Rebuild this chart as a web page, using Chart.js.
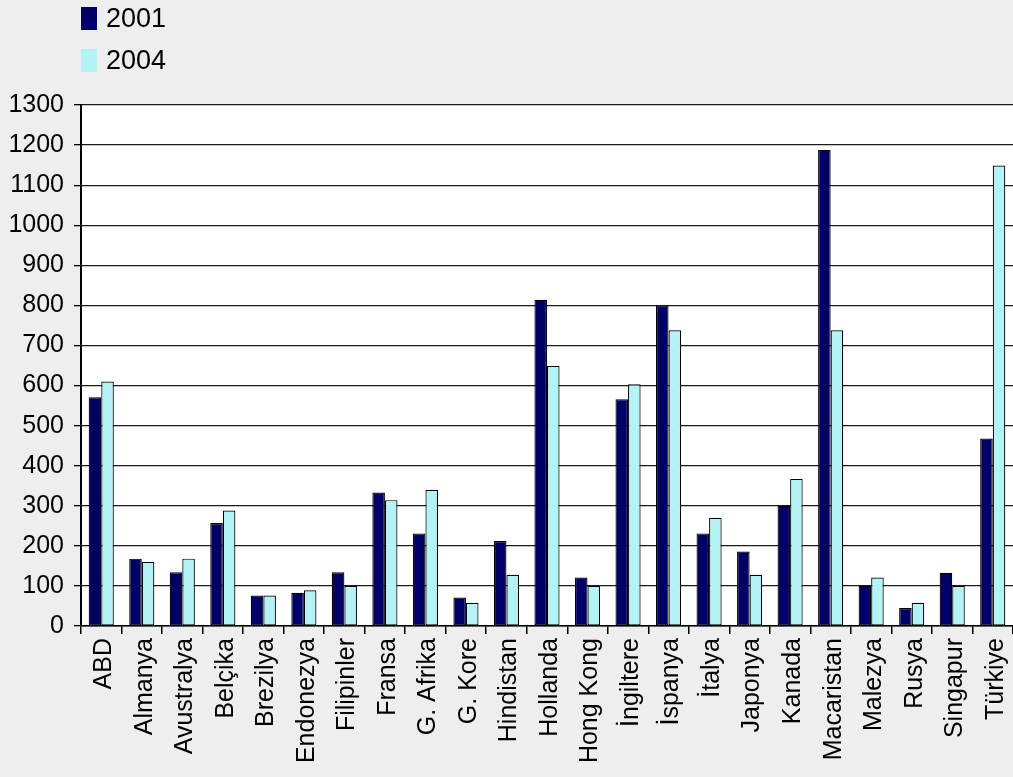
<!DOCTYPE html>
<html>
<head>
<meta charset="utf-8">
<script src="https://cdn.jsdelivr.net/npm/chart.js@4/dist/chart.umd.min.js"></script>
<style>
  html, body { margin: 0; padding: 0; background: #eeeeee; }
  #wrap { width: 1013px; height: 777px; position: relative; }
</style>
</head>
<body>
<div id="wrap"><canvas id="chart"></canvas></div>
<script>
// Countries on the x axis
let countries = ["ABD", "Almanya", "Avustralya", "Belçika", "Brezilya", "Endonezya", "Filipinler", "Fransa", "G. Afrika", "G. Kore", "Hindistan", "Hollanda", "Hong Kong", "İngiltere", "İspanya", "İtalya", "Japonya", "Kanada", "Macaristan", "Malezya", "Rusya", "Singapur", "Türkiye"];

// Values per year
let values2001 = [571, 168, 134, 257, 76, 83, 134, 333, 231, 71, 212, 814, 121, 566, 800, 231, 186, 300, 1188, 100, 45, 133, 468];
let values2004 = [610, 160, 168, 288, 76, 89, 100, 314, 340, 58, 128, 649, 100, 603, 738, 270, 128, 367, 738, 121, 58, 100, 1149];

let yearLabels = ["2001", "2004"];
let yearColors = ["#000066", "#b4f3f5"];

let FONT = "'Liberation Sans', Arial, sans-serif";

// White plot area on the grey page
let plotBackground = {
  id: "plotBackground",
  beforeDraw(chart) {
    let a = chart.chartArea;
    let ctx = chart.ctx;
    ctx.save();
    ctx.fillStyle = "#ffffff";
    ctx.fillRect(a.left, a.top, a.right - a.left, a.bottom - a.top);
    ctx.restore();
  }
};

// Legend stacked in one column at the top left
let stackedLegend = {
  id: "stackedLegend",
  afterDraw(chart) {
    let ctx = chart.ctx;
    ctx.save();
    ctx.font = "27px " + FONT;
    ctx.textBaseline = "middle";
    chart.data.datasets.forEach((ds, i) => {
      let cy = 18.5 + i * 42;
      ctx.fillStyle = ds.backgroundColor;
      ctx.fillRect(81, cy - 11.5, 16, 23);
      ctx.fillStyle = "#000000";
      ctx.fillText(ds.label, 106, cy + 1.5);
    });
    ctx.restore();
  }
};

let datasets = [];
for (let i = 0; i < yearLabels.length; i++) {
  datasets.push({
    label: yearLabels[i],
    data: i === 0 ? values2001 : values2004,
    backgroundColor: yearColors[i],
    borderColor: "#000000",
    borderWidth: 1.2,
    borderSkipped: false,
    categoryPercentage: 0.62,
    barPercentage: 1.0
  });
}

new Chart(document.getElementById("chart").getContext("2d"), {
  type: "bar",
  data: { labels: countries, datasets: datasets },
  options: {
    responsive: true,
    maintainAspectRatio: false,
    animation: false,
    layout: { padding: { top: 105, right: 0, left: 0, bottom: 0 } },
    plugins: {
      legend: { display: false },
      tooltip: { enabled: false }
    },
    scales: {
      x: {
        grid: { offset: true, drawOnChartArea: false, drawTicks: true, tickLength: 8, color: "#000000", lineWidth: 1.5 },
        border: { color: "#000000", width: 1.5 },
        ticks: {
          autoSkip: false, minRotation: 90, maxRotation: 90, padding: 4, labelOffset: 3,
          color: "#000000", font: { family: FONT, size: 25 }
        },
        afterFit(scale) {
          scale.height = 151;
          scale.paddingLeft = 0;
          scale.paddingRight = 0;
        }
      },
      y: {
        min: 0, max: 1300,
        grid: { color: "#1a1a1a", lineWidth: 1.3, tickLength: 7, tickColor: "#000000" },
        border: { color: "#000000", width: 2 },
        ticks: {
          stepSize: 100, padding: 10, color: "#000000", font: { family: FONT, size: 25 },
          callback: (v) => String(v)
        },
        afterFit(scale) {
          scale.width = 81;
        }
      }
    }
  },
  plugins: [plotBackground, stackedLegend]
});
</script>
</body>
</html>
